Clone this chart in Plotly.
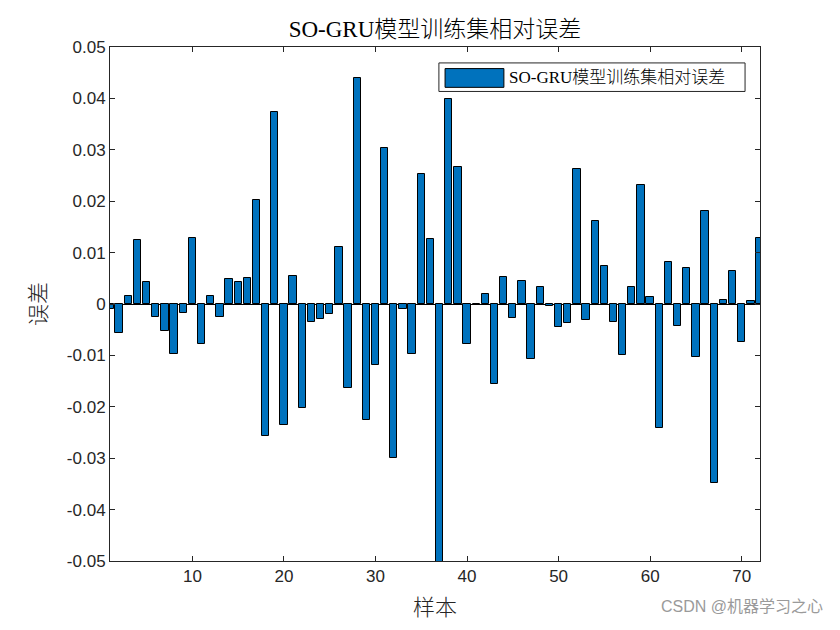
import plotly.graph_objects as go

samples = list(range(1, 73))
errors = [
    -0.0010, -0.0057, 0.0016, 0.0125, 0.0043, -0.0025, -0.0053, -0.0098, -0.0018, 0.0129,
    -0.0078, 0.0016, -0.0025, 0.0049, 0.0042, 0.0051, 0.0203, -0.0257, 0.0373, -0.0236,
    0.0055, -0.0203, -0.0035, -0.0029, -0.0020, 0.0111, -0.0164, 0.0439, -0.0226, -0.0119,
    0.0304, -0.0299, -0.0010, -0.0098, 0.0252, 0.0127, -0.0560, 0.0398, 0.0267, -0.0078,
    0.0000, 0.0020, -0.0156, 0.0053, -0.0027, 0.0045, -0.0107, 0.0033, -0.0003, -0.0045,
    -0.0037, 0.0263, -0.0031, 0.0162, 0.0074, -0.0035, -0.0100, 0.0033, 0.0232, 0.0014,
    -0.0242, 0.0082, -0.0043, 0.0070, -0.0104, 0.0181, -0.0349, 0.0008, 0.0065, -0.0073,
    0.0006, 0.0129,
]
x_ticks = [10, 20, 30, 40, 50, 60, 70]
y_ticks = [-0.05, -0.04, -0.03, -0.02, -0.01, 0, 0.01, 0.02, 0.03, 0.04, 0.05]
y_tick_labels = ["-0.05", "-0.04", "-0.03", "-0.02", "-0.01", "0", "0.01", "0.02", "0.03", "0.04", "0.05"]
series_name = "SO-GRU模型训练集相对误差"

serif = "Liberation Serif, Times New Roman, Noto Sans CJK SC, serif"
sans = "Liberation Sans, Arial, Noto Sans CJK SC, sans-serif"
axis_col = "#262626"
bar_col = "#0072BD"

fig = go.Figure()
fig.add_trace(go.Bar(
    x=samples, y=errors, width=0.8,
    marker=dict(color=bar_col, line=dict(color="black", width=1)),
    name=series_name, showlegend=False,
))

fig.update_layout(
    width=840, height=630,
    margin=dict(l=110, r=80, t=47, b=69),
    paper_bgcolor="white", plot_bgcolor="white",
    title=dict(text=series_name, x=435 / 840, xanchor="center",
               y=1 - 29 / 630, yanchor="middle",
               font=dict(family=serif, size=23, color="black", weight=300)),
    bargap=0,
)
fig.update_xaxes(
    range=[1, 72], tickvals=x_ticks, ticks="inside", ticklen=5, tickcolor=axis_col,
    showline=True, linecolor=axis_col, linewidth=1, mirror="ticks", showgrid=False,
    zeroline=False, tickfont=dict(family=sans, size=17, color=axis_col),
    title=dict(text="样本", font=dict(family=serif, size=22, color=axis_col, weight=300), standoff=14),
)
fig.update_yaxes(
    range=[-0.05, 0.05], tickvals=y_ticks, ticktext=y_tick_labels, ticks="inside", ticklen=5,
    tickcolor=axis_col, showline=True, linecolor=axis_col, linewidth=1, mirror="ticks",
    showgrid=False, zeroline=True, zerolinecolor="black", zerolinewidth=1,
    tickfont=dict(family=sans, size=17, color=axis_col),
    title=dict(text="误差", font=dict(family=serif, size=22, color=axis_col, weight=300), standoff=14),
)

# MATLAB-style legend box (long rectangle swatch)
fig.add_shape(type="rect", xref="paper", yref="paper",
              x0=0.506, x1=0.977, y0=0.9135, y1=0.969,
              line=dict(color=axis_col, width=1), fillcolor="white", layer="above")
fig.add_shape(type="rect", xref="paper", yref="paper",
              x0=0.5155, x1=0.606, y0=0.9215, y1=0.958,
              line=dict(color="black", width=1), fillcolor=bar_col, layer="above")
fig.add_annotation(text=series_name, xref="paper", yref="paper",
                   x=0.611, xanchor="left", y=0.941, yanchor="middle", showarrow=False,
                   font=dict(family=serif, size=17, color="black", weight=300))

fig.add_annotation(text="CSDN @机器学习之心", xref="paper", yref="paper",
                   x=1 + 65 / 650, xanchor="right", y=-69 / 514 * 0.66, yanchor="middle",
                   showarrow=False, font=dict(family=sans, size=16, color="#9a9a9a"))

fig.write_html("out.html")
